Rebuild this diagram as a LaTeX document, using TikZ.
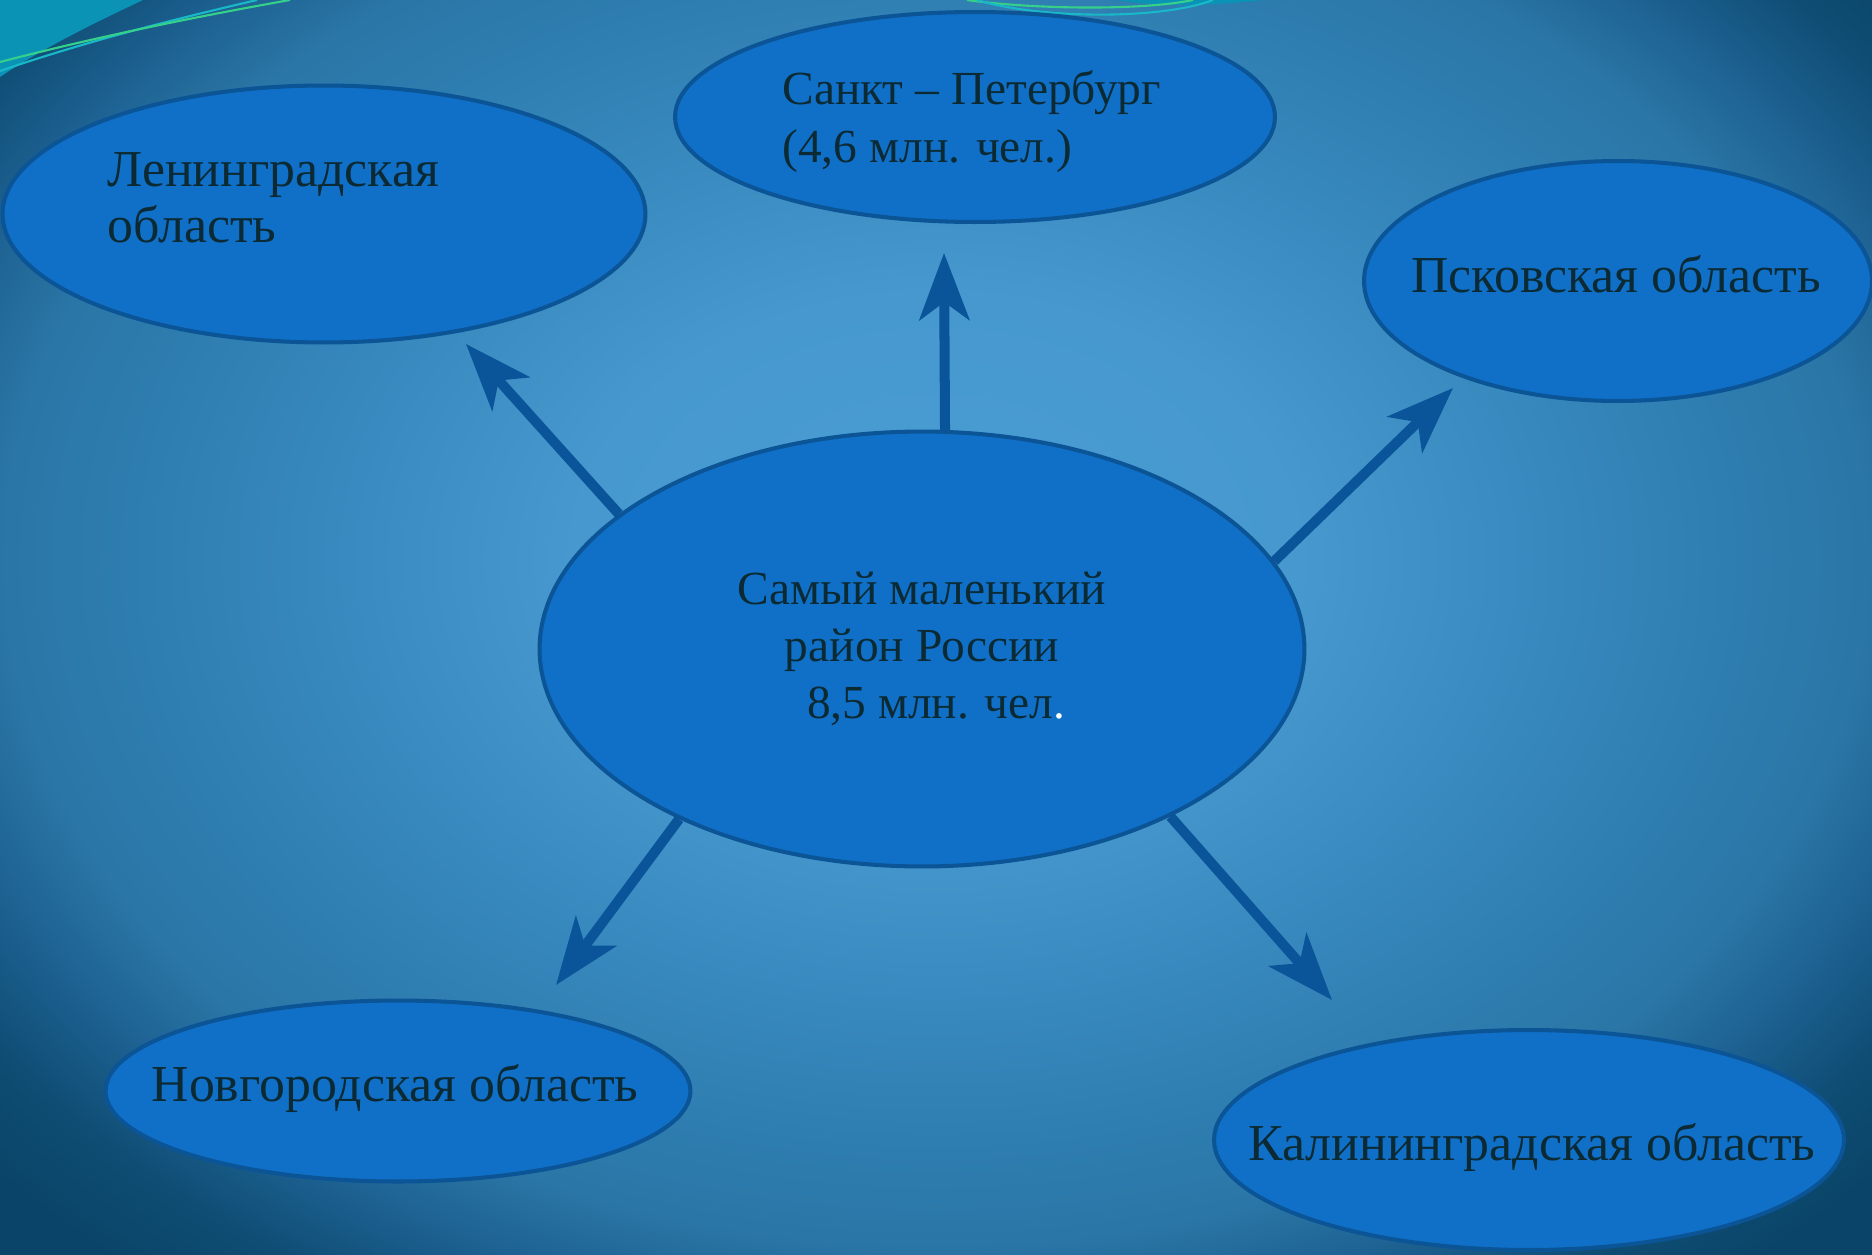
\documentclass[tikz,border=0pt]{standalone}
\usepackage{fontspec}
\setmainfont{Liberation Serif}
\usetikzlibrary{arrows.meta,shapes.geometric}

\definecolor{bgA}{HTML}{4A9ED3}
\definecolor{bgB}{HTML}{4698CE}
\definecolor{bgC}{HTML}{3788BD}
\definecolor{bgD}{HTML}{2E7DB0}
\definecolor{bgE}{HTML}{2A76A6}
\definecolor{bgF}{HTML}{1C6090}
\definecolor{bgG}{HTML}{0F4D74}
\definecolor{bgH}{HTML}{0A4468}
\definecolor{blobfill}{HTML}{1070C8}
\definecolor{rim}{HTML}{0B5496}
\definecolor{shaft}{HTML}{0A5499}
\definecolor{ink}{HTML}{0B2A33}
\definecolor{swoosh}{HTML}{0A93B5}
\definecolor{lineg}{HTML}{35D08A}
\definecolor{linec}{HTML}{19B8C8}

\pgfdeclareradialshading{slidebg}{\pgfpoint{0bp}{0bp}}{color(0bp)=(bgA); color(17.5bp)=(bgB); color(30bp)=(bgC); color(39bp)=(bgD); color(45bp)=(bgE); color(50.5bp)=(bgF); color(55.5bp)=(bgG); color(61bp)=(bgH); color(71bp)=(bgH)}

\begin{document}
\begin{tikzpicture}[x=0.02cm, y=-0.02cm,
  >={Stealth[length=1.34cm, width=1cm, inset=0.36cm]},
  blob/.style={ellipse, draw=rim, fill=blobfill, line width=2.3pt, inner sep=0pt},
  txt/.style={text=ink, font=\fontsize{29.5}{31.5}\selectfont, inner sep=0pt},
  tms/.style={txt, font=\fontsize{27}{32.5}\selectfont},
  link/.style={->, draw=shaft, line width=5.7pt}]
\useasboundingbox (0,0) rectangle (1872,1254);

% background
\begin{scope}
\clip (0,0) rectangle (1872,1254);
\node[inner sep=0pt, outer sep=0pt] (bg) at (936,560) {\scalebox{11.74}[8.62]{\pgfuseshading{slidebg}}};
\fill[swoosh] (0,0) -- (143,0) .. controls (90,25) and (40,50) .. (0,77) -- cycle;
\draw[linec, line width=1.2pt] (0,71) .. controls (90,40) and (180,18) .. (257,0);
\draw[lineg, line width=1.2pt] (0,62) .. controls (100,36) and (200,16) .. (290,0);
\fill[swoosh] (1117,0) .. controls (1160,7) and (1210,6) .. (1263,0) -- cycle;
\draw[lineg, line width=1.2pt] (967,0) .. controls (1030,9) and (1140,11) .. (1193,0);
\draw[linec, line width=1.2pt] (977,0) .. controls (1040,19) and (1160,20) .. (1213,0);
\end{scope}

% ellipses
\node[blob, minimum width=15.3cm, minimum height=8.7cm] (hub) at (922,649) {};
\node[blob, minimum width=12.86cm, minimum height=5.14cm] (lenobl) at (324,214) {};
\node[blob, minimum width=12cm, minimum height=4.2cm] (spb) at (975,117) {};
\node[blob, minimum width=10.16cm, minimum height=4.8cm] (pskov) at (1618,281) {};
\node[blob, minimum width=11.7cm, minimum height=3.62cm] (novg) at (398,1091) {};
\node[blob, minimum width=12.6cm, minimum height=4.4cm] (kalin) at (1529,1140) {};

% texts
\node[tms, align=center] (hub-t) at (hub) {Самый маленький\\район России\\\hspace*{0.6em}8,5 млн. чел\textcolor{white}{.}};
\node[txt, align=left, anchor=base west] (lenobl-t) at (107,242) {Ленинградская\\область};
\node[tms, align=left, anchor=base west] (spb-t) at (782,162) {Санкт – Петербург\\(4,6 млн. чел.)};
\node[txt, anchor=base] (pskov-t) at (1616,292) {Псковская область};
\node[txt, anchor=base] (novg-t) at (395,1101) {Новгородская область};
\node[txt, anchor=base] (kalin-t) at (1532,1160) {Калининградская область};

% arrows
\coordinate (tip-spb) at (944,253);
\coordinate (tip-len) at (466,344);
\coordinate (tip-psk) at (1453,388);
\coordinate (tip-nov) at (556,985);
\coordinate (tip-kal) at (1332,1000);
\draw[link] (hub.84.3) -- (tip-spb);
\draw[link] (hub.156.8) -- (tip-len);
\draw[link] (hub.14.6) -- (tip-psk);
\draw[link] (hub.215.2) -- (tip-nov);
\draw[link] (hub.326.2) -- (tip-kal);
\end{tikzpicture}
\end{document}
